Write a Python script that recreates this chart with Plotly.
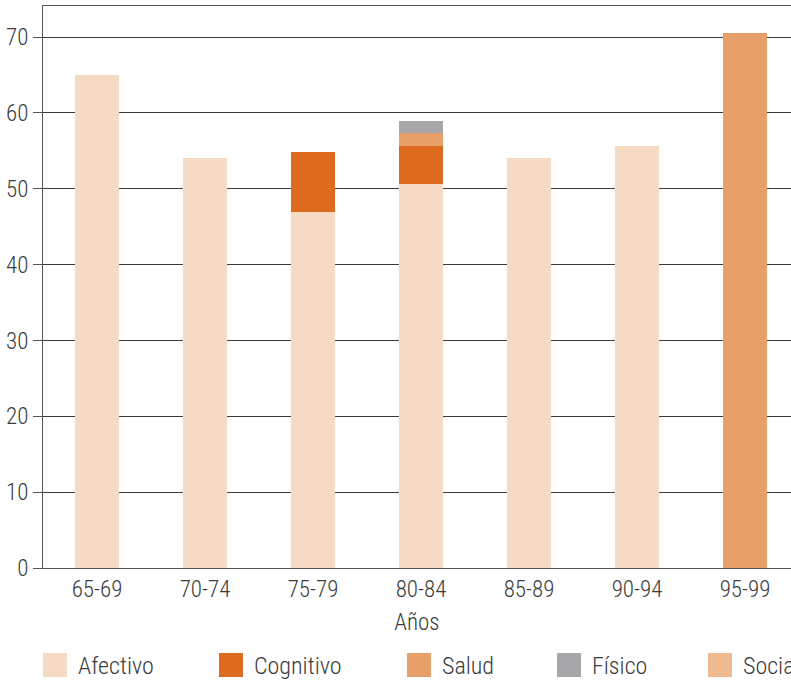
import plotly.graph_objects as go

# Age groups and share of each domain (stacked)
categories = ["65-69", "70-74", "75-79", "80-84", "85-89", "90-94", "95-99"]
afectivo = [65.0, 54.1, 47.0, 50.6, 54.0, 55.6, None]
cognitivo = [None, None, 7.8, 5.0, None, None, None]
salud = [None, None, None, 1.7, None, None, 70.6]
fisico = [None, None, None, 1.7, None, None, None]
social = [None, None, None, None, None, None, None]

series_names = ["Afectivo", "Cognitivo", "Salud", "Físico", "Social"]
series_values = [afectivo, cognitivo, salud, fisico, social]
colors = ["#F5DBC3", "#DC6B1F", "#E8A06A", "#A7A7AA", "#EFBA90"]

y_ticks = [0, 10, 20, 30, 40, 50, 60, 70]

FONT = "Roboto Condensed, DejaVu Sans Condensed, sans-serif"
TEXT = "#3c3c3c"
WEIGHT = 300

W, H = 791, 681
ML, MR, MT, MB = 43, 0, 6, 113

fig = go.Figure()
for name, vals, col in zip(series_names, series_values, colors):
    fig.add_trace(go.Bar(
        x=categories, y=vals, name=name, marker=dict(color=col, line=dict(width=0)),
        width=0.41, showlegend=False,
    ))


def px_x(px):
    return (px - ML) / (W - ML - MR)


def px_y(py):
    return (H - MB - py) / (H - MB - MT)


# Legend row below the axis title
legend_x = [43, 219, 407, 557, 708]
shapes = []
annotations = []
for name, col, lx in zip(series_names, colors, legend_x):
    shapes.append(dict(type="rect", xref="paper", yref="paper",
                       x0=px_x(lx), x1=px_x(lx + 24), y0=px_y(677), y1=px_y(653),
                       fillcolor=col, line=dict(width=0)))
    annotations.append(dict(xref="paper", yref="paper", x=px_x(lx + 33), y=px_y(666),
                            xanchor="left", yanchor="middle", text=name, showarrow=False,
                            font=dict(family=FONT, size=24, weight=WEIGHT, color=TEXT)))

tick_font = dict(family=FONT, size=23, weight=WEIGHT, color=TEXT)

fig.update_layout(
    width=W, height=H,
    margin=dict(l=ML, r=MR, t=MT, b=MB),
    barmode="stack",
    plot_bgcolor="white", paper_bgcolor="white",
    font=dict(family=FONT, size=23, weight=WEIGHT, color=TEXT),
    shapes=shapes, annotations=annotations,
    xaxis=dict(
        range=[-0.5, 6.426],
        showline=True, linecolor="#555555", linewidth=1, mirror=True,
        ticks="", showgrid=False,
        tickfont=tick_font,
        title=dict(text="Años", font=tick_font, standoff=12),
    ),
    yaxis=dict(
        range=[0, 74.1], tickvals=y_ticks,
        showline=True, linecolor="#555555", linewidth=1,
        ticks="outside", ticklen=9, tickcolor="#555555",
        showgrid=True, gridcolor="#3a3a3a", gridwidth=1,
        zeroline=False,
        tickfont=tick_font,
    ),
)

fig.write_html("out.html")
